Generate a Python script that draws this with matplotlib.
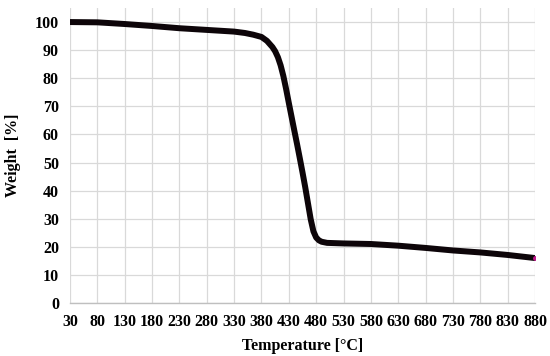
import matplotlib
matplotlib.use("Agg")
import matplotlib.pyplot as plt

temperature = [30, 80, 130, 180, 230, 280, 330, 350, 365, 380, 390, 400, 405, 410, 415,
               420, 425, 430, 435, 440, 445, 450, 455, 460, 465, 470, 475, 480, 485,
               490, 500, 530, 580, 630, 680, 730, 780, 830, 880]
weight = [100.0, 99.9, 99.3, 98.6, 97.8, 97.2, 96.6, 96.1, 95.5, 94.7, 93.3, 91.1, 89.6, 87.5, 84.6,
          80.8, 76.2, 71.2, 66.3, 61.4, 56.6, 51.6, 46.5, 41.2, 35.5, 29.8, 25.5, 23.3, 22.3,
          21.8, 21.4, 21.2, 21.0, 20.4, 19.6, 18.7, 18.0, 17.1, 16.0]
x_ticks = list(range(30, 881, 50))
y_ticks = list(range(0, 101, 10))

plt.rcParams['font.family'] = ['Liberation Serif', 'DejaVu Serif']

fig = plt.figure(figsize=(5.5, 3.56), dpi=100)
ax = fig.add_axes([70/550, 1-303/356, 465/550, 295/356])

ax.plot(temperature, weight, color='#0d0509', lw=4.3, solid_capstyle='round',
        solid_joinstyle='round', zorder=3)
ax.plot(temperature[-1:], weight[-1:], 'o', color='#c0188c', ms=2.5, zorder=4)

ax.set_xlim(30, 880)
ax.set_ylim(0, 105)
ax.set_xticks(x_ticks)
ax.set_yticks(y_ticks)
ax.set_xticklabels([str(t) for t in x_ticks], fontweight='bold', fontsize=11.5)
ax.set_yticklabels([str(t) for t in y_ticks], fontweight='bold', fontsize=11.5)
ax.tick_params(axis='both', length=0, colors='black')
ax.tick_params(axis='x', pad=8)
ax.tick_params(axis='y', pad=8)
ax.grid(True, color='#d9d9d9', lw=0.9, zorder=0)
for s in ['top', 'right', 'left']:
    ax.spines[s].set_visible(False)
ax.spines['bottom'].set_color('#bfbfbf')
ax.spines['bottom'].set_linewidth(1.0)

ax.set_xlabel('Temperature [°C]', fontweight='bold', fontsize=11.5, labelpad=6)
ax.set_ylabel('Weight  [%]', fontweight='bold', fontsize=11.5, labelpad=10)

fig.savefig('out.png', dpi=100)
